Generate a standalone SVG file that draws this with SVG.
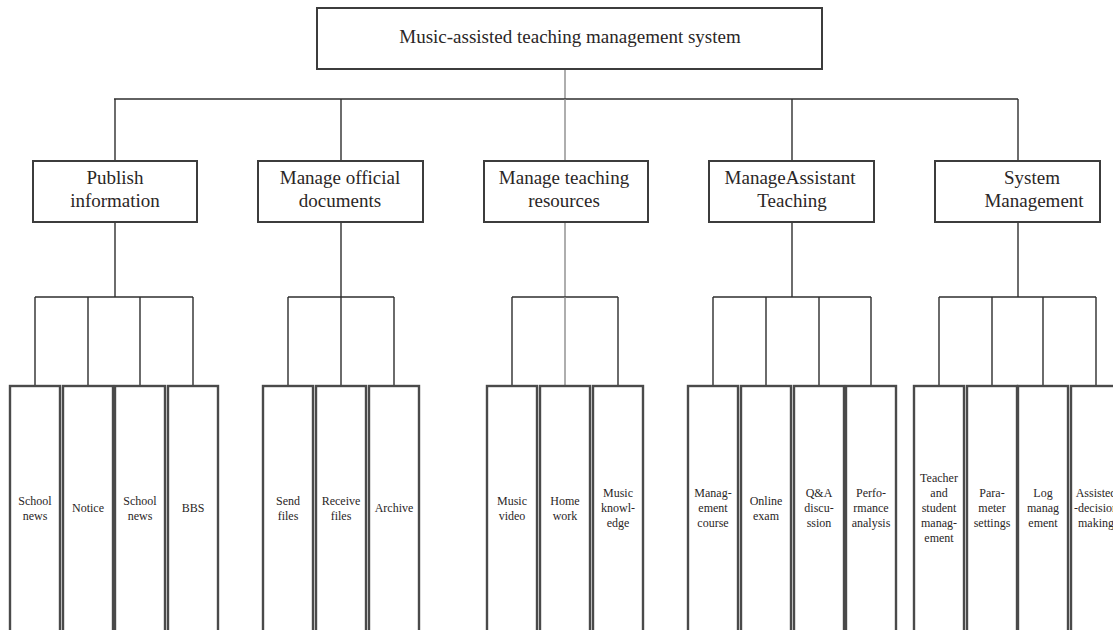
<svg xmlns="http://www.w3.org/2000/svg" width="1113" height="630" viewBox="0 0 1113 630">
  <style>
    .box { fill: #ffffff; stroke: #3c3c3c; stroke-width: 2; }
    .leaf { fill: #ffffff; stroke: #4a4a4a; stroke-width: 2.4; }
    .wire { fill: none; stroke: #2e2e2e; stroke-width: 1.4; }
    .wire-light { fill: none; stroke: #8c8c8c; stroke-width: 1.4; }
    text { font-family: "Liberation Serif", "Times New Roman", serif; fill: #2a2626; text-anchor: middle; }
    .t-root { font-size: 19px; }
    .t-mid { font-size: 19px; }
    .t-leaf { font-size: 12px; }
  </style>

  <!-- connectors -->
  <g id="connectors">
    <!-- root to first level -->
    <line class="wire-light" x1="565" y1="69" x2="565" y2="99"/>
    <line class="wire" x1="114" y1="99" x2="1018" y2="99"/>
    <line class="wire" x1="115" y1="99" x2="115" y2="161"/>
    <line class="wire" x1="341" y1="99" x2="341" y2="161"/>
    <line class="wire-light" x1="565" y1="99" x2="565" y2="161"/>
    <line class="wire" x1="792" y1="99" x2="792" y2="161"/>
    <line class="wire" x1="1018" y1="99" x2="1018" y2="161"/>

    <!-- Publish information branch -->
    <line class="wire" x1="115" y1="222" x2="115" y2="297"/>
    <line class="wire" x1="35" y1="297" x2="193" y2="297"/>
    <path class="wire" d="M35 297V386M88 297V386M140 297V386M193 297V386"/>

    <!-- Manage official documents branch -->
    <line class="wire" x1="341" y1="222" x2="341" y2="297"/>
    <line class="wire" x1="288" y1="297" x2="394" y2="297"/>
    <path class="wire" d="M288 297V386M341 297V386M394 297V386"/>

    <!-- Manage teaching resources branch -->
    <line class="wire-light" x1="565" y1="222" x2="565" y2="297"/>
    <line class="wire" x1="512" y1="297" x2="618" y2="297"/>
    <path class="wire" d="M512 297V386M618 297V386"/>
    <line class="wire-light" x1="565" y1="297" x2="565" y2="386"/>

    <!-- ManageAssistant Teaching branch -->
    <line class="wire" x1="792" y1="222" x2="792" y2="297"/>
    <line class="wire" x1="713" y1="297" x2="871" y2="297"/>
    <path class="wire" d="M713 297V386M766 297V386M819 297V386M871 297V386"/>

    <!-- System Management branch -->
    <line class="wire" x1="1018" y1="222" x2="1018" y2="297"/>
    <line class="wire" x1="939" y1="297" x2="1096" y2="297"/>
    <path class="wire" d="M939 297V386M992 297V386M1043 297V386M1096 297V386"/>
  </g>

  <!-- root -->
  <g id="root">
    <rect class="box" x="317" y="8" width="505" height="61"/>
    <text class="t-root" x="570" y="43">Music-assisted teaching management system</text>
  </g>

  <!-- first level -->
  <g id="publish-information">
    <rect class="box" x="33" y="161" width="164" height="61"/>
    <text class="t-mid" x="115" y="184">Publish</text>
    <text class="t-mid" x="115" y="207">information</text>
  </g>
  <g id="manage-official-documents">
    <rect class="box" x="258" y="161" width="165" height="61"/>
    <text class="t-mid" x="340" y="184">Manage official</text>
    <text class="t-mid" x="340" y="207">documents</text>
  </g>
  <g id="manage-teaching-resources">
    <rect class="box" x="484" y="161" width="164" height="61"/>
    <text class="t-mid" x="564" y="184">Manage teaching</text>
    <text class="t-mid" x="564" y="207">resources</text>
  </g>
  <g id="manage-assistant-teaching">
    <rect class="box" x="709" y="161" width="165" height="61"/>
    <text class="t-mid" x="790" y="184">ManageAssistant</text>
    <text class="t-mid" x="792" y="207">Teaching</text>
  </g>
  <g id="system-management">
    <rect class="box" x="935" y="161" width="165" height="61"/>
    <text class="t-mid" x="1032" y="184">System</text>
    <text class="t-mid" x="1034" y="207">Management</text>
  </g>

  <!-- leaves: Publish information -->
  <g id="leaf-school-news-1">
    <rect class="leaf" x="10" y="386" width="50" height="260"/>
    <text class="t-leaf" x="35" y="504.5">School</text>
    <text class="t-leaf" x="35" y="519.5">news</text>
  </g>
  <g id="leaf-notice">
    <rect class="leaf" x="63" y="386" width="50" height="260"/>
    <text class="t-leaf" x="88" y="512">Notice</text>
  </g>
  <g id="leaf-school-news-2">
    <rect class="leaf" x="115" y="386" width="50" height="260"/>
    <text class="t-leaf" x="140" y="504.5">School</text>
    <text class="t-leaf" x="140" y="519.5">news</text>
  </g>
  <g id="leaf-bbs">
    <rect class="leaf" x="168" y="386" width="50" height="260"/>
    <text class="t-leaf" x="193" y="512">BBS</text>
  </g>

  <!-- leaves: Manage official documents -->
  <g id="leaf-send-files">
    <rect class="leaf" x="263" y="386" width="50" height="260"/>
    <text class="t-leaf" x="288" y="504.5">Send</text>
    <text class="t-leaf" x="288" y="519.5">files</text>
  </g>
  <g id="leaf-receive-files">
    <rect class="leaf" x="316" y="386" width="50" height="260"/>
    <text class="t-leaf" x="341" y="504.5">Receive</text>
    <text class="t-leaf" x="341" y="519.5">files</text>
  </g>
  <g id="leaf-archive">
    <rect class="leaf" x="369" y="386" width="50" height="260"/>
    <text class="t-leaf" x="394" y="512">Archive</text>
  </g>

  <!-- leaves: Manage teaching resources -->
  <g id="leaf-music-video">
    <rect class="leaf" x="487" y="386" width="50" height="260"/>
    <text class="t-leaf" x="512" y="504.5">Music</text>
    <text class="t-leaf" x="512" y="519.5">video</text>
  </g>
  <g id="leaf-home-work">
    <rect class="leaf" x="540" y="386" width="50" height="260"/>
    <text class="t-leaf" x="565" y="504.5">Home</text>
    <text class="t-leaf" x="565" y="519.5">work</text>
  </g>
  <g id="leaf-music-knowledge">
    <rect class="leaf" x="593" y="386" width="50" height="260"/>
    <text class="t-leaf" x="618" y="497">Music</text>
    <text class="t-leaf" x="618" y="512">knowl-</text>
    <text class="t-leaf" x="618" y="527">edge</text>
  </g>

  <!-- leaves: ManageAssistant Teaching -->
  <g id="leaf-management-course">
    <rect class="leaf" x="688" y="386" width="50" height="260"/>
    <text class="t-leaf" x="713" y="497">Manag-</text>
    <text class="t-leaf" x="713" y="512">ement</text>
    <text class="t-leaf" x="713" y="527">course</text>
  </g>
  <g id="leaf-online-exam">
    <rect class="leaf" x="741" y="386" width="50" height="260"/>
    <text class="t-leaf" x="766" y="504.5">Online</text>
    <text class="t-leaf" x="766" y="519.5">exam</text>
  </g>
  <g id="leaf-qa-discussion">
    <rect class="leaf" x="794" y="386" width="50" height="260"/>
    <text class="t-leaf" x="819" y="497">Q&amp;A</text>
    <text class="t-leaf" x="819" y="512">discu-</text>
    <text class="t-leaf" x="819" y="527">ssion</text>
  </g>
  <g id="leaf-performance-analysis">
    <rect class="leaf" x="846" y="386" width="50" height="260"/>
    <text class="t-leaf" x="871" y="497">Perfo-</text>
    <text class="t-leaf" x="871" y="512">rmance</text>
    <text class="t-leaf" x="871" y="527">analysis</text>
  </g>

  <!-- leaves: System Management -->
  <g id="leaf-teacher-student">
    <rect class="leaf" x="914" y="386" width="50" height="260"/>
    <text class="t-leaf" x="939" y="482">Teacher</text>
    <text class="t-leaf" x="939" y="497">and</text>
    <text class="t-leaf" x="939" y="512">student</text>
    <text class="t-leaf" x="939" y="527">manag-</text>
    <text class="t-leaf" x="939" y="542">ement</text>
  </g>
  <g id="leaf-parameter-settings">
    <rect class="leaf" x="967" y="386" width="50" height="260"/>
    <text class="t-leaf" x="992" y="497">Para-</text>
    <text class="t-leaf" x="992" y="512">meter</text>
    <text class="t-leaf" x="992" y="527">settings</text>
  </g>
  <g id="leaf-log-management">
    <rect class="leaf" x="1018" y="386" width="50" height="260"/>
    <text class="t-leaf" x="1043" y="497">Log</text>
    <text class="t-leaf" x="1043" y="512">manag</text>
    <text class="t-leaf" x="1043" y="527">ement</text>
  </g>
  <g id="leaf-assisted-decision">
    <rect class="leaf" x="1071" y="386" width="50" height="260"/>
    <text class="t-leaf" x="1096" y="497">Assisted</text>
    <text class="t-leaf" x="1096" y="512">-decision</text>
    <text class="t-leaf" x="1096" y="527">making</text>
  </g>
</svg>
